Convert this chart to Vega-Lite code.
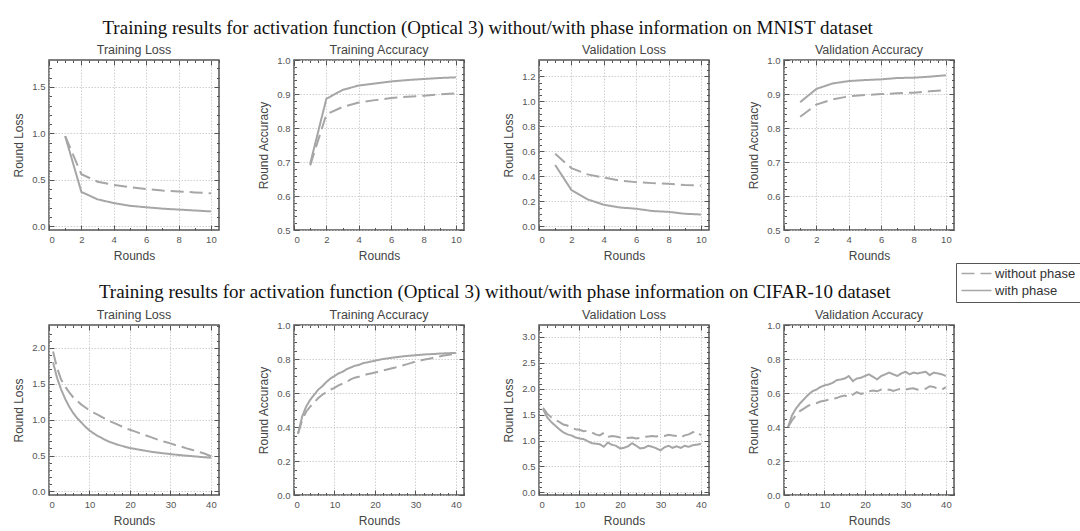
{
"$schema": "https://vega.github.io/schema/vega-lite/v6.json",
"background": "white",
"padding": {"left": 12, "top": 18, "right": 5, "bottom": 5},
"config": {
  "view": {"stroke": "#555", "strokeWidth": 1.5},
  "font": "Liberation Sans",
  "title": {"fontSize": 12.5, "fontWeight": "normal", "color": "#444", "offset": 3},
  "axis": {"domain": false, "labelFontSize": 9.5, "labelColor": "#555", "titleFontSize": 12, "titleFontWeight": "normal", "titleColor": "#444", "tickColor": "#555", "tickWidth": 1, "gridColor": "#c4c4c4", "gridDash": [1.5, 1.5], "gridWidth": 0.8, "labelPadding": 9, "titlePadding": 6, "labelOverlap": false},
  "axisBottom": {"titlePadding": 4},
  "legend": {"orient": "none", "legendX": 907, "legendY": 203, "strokeColor": "#555", "padding": 4, "labelFontSize": 13, "labelColor": "#333", "symbolType": "M-1,0H5", "symbolSize": 100, "symbolStrokeColor": "#a6a6a6", "symbolStrokeWidth": 1.5, "rowPadding": 3, "labelOffset": 22}
},
"datasets": {
"m1": [
{"r":1,"p":"with phase","v":0.97},{"r":2,"p":"with phase","v":0.37},{"r":3,"p":"with phase","v":0.29},{"r":4,"p":"with phase","v":0.25},{"r":5,"p":"with phase","v":0.22},{"r":6,"p":"with phase","v":0.205},{"r":7,"p":"with phase","v":0.19},{"r":8,"p":"with phase","v":0.18},{"r":9,"p":"with phase","v":0.17},{"r":10,"p":"with phase","v":0.16},
{"r":1,"p":"without phase","v":0.97},{"r":2,"p":"without phase","v":0.56},{"r":3,"p":"without phase","v":0.48},{"r":4,"p":"without phase","v":0.445},{"r":5,"p":"without phase","v":0.42},{"r":6,"p":"without phase","v":0.4},{"r":7,"p":"without phase","v":0.385},{"r":8,"p":"without phase","v":0.375},{"r":9,"p":"without phase","v":0.365},{"r":10,"p":"without phase","v":0.355}
],
"m2": [
{"r":1,"p":"with phase","v":0.695},{"r":2,"p":"with phase","v":0.886},{"r":3,"p":"with phase","v":0.912},{"r":4,"p":"with phase","v":0.925},{"r":5,"p":"with phase","v":0.931},{"r":6,"p":"with phase","v":0.937},{"r":7,"p":"with phase","v":0.941},{"r":8,"p":"with phase","v":0.944},{"r":9,"p":"with phase","v":0.947},{"r":10,"p":"with phase","v":0.949},
{"r":1,"p":"without phase","v":0.69},{"r":2,"p":"without phase","v":0.84},{"r":3,"p":"without phase","v":0.862},{"r":4,"p":"without phase","v":0.875},{"r":5,"p":"without phase","v":0.882},{"r":6,"p":"without phase","v":0.888},{"r":7,"p":"without phase","v":0.892},{"r":8,"p":"without phase","v":0.895},{"r":9,"p":"without phase","v":0.899},{"r":10,"p":"without phase","v":0.902}
],
"m3": [
{"r":1,"p":"with phase","v":0.49},{"r":2,"p":"with phase","v":0.29},{"r":3,"p":"with phase","v":0.215},{"r":4,"p":"with phase","v":0.172},{"r":5,"p":"with phase","v":0.15},{"r":6,"p":"with phase","v":0.14},{"r":7,"p":"with phase","v":0.122},{"r":8,"p":"with phase","v":0.115},{"r":9,"p":"with phase","v":0.1},{"r":10,"p":"with phase","v":0.094},
{"r":1,"p":"without phase","v":0.58},{"r":2,"p":"without phase","v":0.465},{"r":3,"p":"without phase","v":0.415},{"r":4,"p":"without phase","v":0.39},{"r":5,"p":"without phase","v":0.365},{"r":6,"p":"without phase","v":0.353},{"r":7,"p":"without phase","v":0.345},{"r":8,"p":"without phase","v":0.34},{"r":9,"p":"without phase","v":0.33},{"r":10,"p":"without phase","v":0.325}
],
"m4": [
{"r":1,"p":"with phase","v":0.876},{"r":2,"p":"with phase","v":0.915},{"r":3,"p":"with phase","v":0.931},{"r":4,"p":"with phase","v":0.938},{"r":5,"p":"with phase","v":0.941},{"r":6,"p":"with phase","v":0.943},{"r":7,"p":"with phase","v":0.947},{"r":8,"p":"with phase","v":0.948},{"r":9,"p":"with phase","v":0.951},{"r":10,"p":"with phase","v":0.955},
{"r":1,"p":"without phase","v":0.833},{"r":2,"p":"without phase","v":0.869},{"r":3,"p":"without phase","v":0.884},{"r":4,"p":"without phase","v":0.893},{"r":5,"p":"without phase","v":0.897},{"r":6,"p":"without phase","v":0.9},{"r":7,"p":"without phase","v":0.902},{"r":8,"p":"without phase","v":0.904},{"r":9,"p":"without phase","v":0.908},{"r":10,"p":"without phase","v":0.911}
],
"c1": [
{"r":1,"p":"with phase","v":1.8},{"r":2,"p":"with phase","v":1.58},{"r":3,"p":"with phase","v":1.42},{"r":4,"p":"with phase","v":1.29},{"r":5,"p":"with phase","v":1.18},{"r":6,"p":"with phase","v":1.09},{"r":7,"p":"with phase","v":1.02},{"r":8,"p":"with phase","v":0.96},{"r":9,"p":"with phase","v":0.9},{"r":10,"p":"with phase","v":0.85},
{"r":11,"p":"with phase","v":0.81},{"r":12,"p":"with phase","v":0.775},{"r":13,"p":"with phase","v":0.745},{"r":14,"p":"with phase","v":0.715},{"r":15,"p":"with phase","v":0.69},{"r":16,"p":"with phase","v":0.67},{"r":17,"p":"with phase","v":0.65},{"r":18,"p":"with phase","v":0.635},{"r":19,"p":"with phase","v":0.62},{"r":20,"p":"with phase","v":0.605},
{"r":21,"p":"with phase","v":0.595},{"r":22,"p":"with phase","v":0.585},{"r":23,"p":"with phase","v":0.575},{"r":24,"p":"with phase","v":0.565},{"r":25,"p":"with phase","v":0.555},{"r":26,"p":"with phase","v":0.547},{"r":27,"p":"with phase","v":0.54},{"r":28,"p":"with phase","v":0.533},{"r":29,"p":"with phase","v":0.527},{"r":30,"p":"with phase","v":0.52},
{"r":31,"p":"with phase","v":0.514},{"r":32,"p":"with phase","v":0.508},{"r":33,"p":"with phase","v":0.503},{"r":34,"p":"with phase","v":0.498},{"r":35,"p":"with phase","v":0.493},{"r":36,"p":"with phase","v":0.488},{"r":37,"p":"with phase","v":0.483},{"r":38,"p":"with phase","v":0.478},{"r":39,"p":"with phase","v":0.474},{"r":40,"p":"with phase","v":0.47},
{"r":1,"p":"without phase","v":1.95},{"r":2,"p":"without phase","v":1.72},{"r":3,"p":"without phase","v":1.56},{"r":4,"p":"without phase","v":1.46},{"r":5,"p":"without phase","v":1.38},{"r":6,"p":"without phase","v":1.31},{"r":7,"p":"without phase","v":1.26},{"r":8,"p":"without phase","v":1.21},{"r":9,"p":"without phase","v":1.17},{"r":10,"p":"without phase","v":1.13},
{"r":11,"p":"without phase","v":1.1},{"r":12,"p":"without phase","v":1.07},{"r":13,"p":"without phase","v":1.04},{"r":14,"p":"without phase","v":1.01},{"r":15,"p":"without phase","v":0.98},{"r":16,"p":"without phase","v":0.955},{"r":17,"p":"without phase","v":0.93},{"r":18,"p":"without phase","v":0.905},{"r":19,"p":"without phase","v":0.88},{"r":20,"p":"without phase","v":0.86},
{"r":21,"p":"without phase","v":0.84},{"r":22,"p":"without phase","v":0.82},{"r":23,"p":"without phase","v":0.8},{"r":24,"p":"without phase","v":0.78},{"r":25,"p":"without phase","v":0.76},{"r":26,"p":"without phase","v":0.74},{"r":27,"p":"without phase","v":0.72},{"r":28,"p":"without phase","v":0.7},{"r":29,"p":"without phase","v":0.685},{"r":30,"p":"without phase","v":0.67},
{"r":31,"p":"without phase","v":0.65},{"r":32,"p":"without phase","v":0.635},{"r":33,"p":"without phase","v":0.62},{"r":34,"p":"without phase","v":0.6},{"r":35,"p":"without phase","v":0.585},{"r":36,"p":"without phase","v":0.57},{"r":37,"p":"without phase","v":0.55},{"r":38,"p":"without phase","v":0.535},{"r":39,"p":"without phase","v":0.515},{"r":40,"p":"without phase","v":0.49}
],
"c2": [
{"r":1,"p":"with phase","v":0.36},{"r":2,"p":"with phase","v":0.46},{"r":3,"p":"with phase","v":0.52},{"r":4,"p":"with phase","v":0.56},{"r":5,"p":"with phase","v":0.59},{"r":6,"p":"with phase","v":0.62},{"r":7,"p":"with phase","v":0.64},{"r":8,"p":"with phase","v":0.665},{"r":9,"p":"with phase","v":0.685},{"r":10,"p":"with phase","v":0.7},
{"r":11,"p":"with phase","v":0.715},{"r":12,"p":"with phase","v":0.725},{"r":13,"p":"with phase","v":0.74},{"r":14,"p":"with phase","v":0.75},{"r":15,"p":"with phase","v":0.76},{"r":16,"p":"with phase","v":0.765},{"r":17,"p":"with phase","v":0.775},{"r":18,"p":"with phase","v":0.78},{"r":19,"p":"with phase","v":0.785},{"r":20,"p":"with phase","v":0.79},
{"r":21,"p":"with phase","v":0.795},{"r":22,"p":"with phase","v":0.8},{"r":23,"p":"with phase","v":0.803},{"r":24,"p":"with phase","v":0.807},{"r":25,"p":"with phase","v":0.81},{"r":26,"p":"with phase","v":0.813},{"r":27,"p":"with phase","v":0.816},{"r":28,"p":"with phase","v":0.818},{"r":29,"p":"with phase","v":0.82},{"r":30,"p":"with phase","v":0.822},
{"r":31,"p":"with phase","v":0.824},{"r":32,"p":"with phase","v":0.826},{"r":33,"p":"with phase","v":0.828},{"r":34,"p":"with phase","v":0.829},{"r":35,"p":"with phase","v":0.83},{"r":36,"p":"with phase","v":0.832},{"r":37,"p":"with phase","v":0.833},{"r":38,"p":"with phase","v":0.834},{"r":39,"p":"with phase","v":0.835},{"r":40,"p":"with phase","v":0.836},
{"r":1,"p":"without phase","v":0.36},{"r":2,"p":"without phase","v":0.44},{"r":3,"p":"without phase","v":0.49},{"r":4,"p":"without phase","v":0.52},{"r":5,"p":"without phase","v":0.545},{"r":6,"p":"without phase","v":0.57},{"r":7,"p":"without phase","v":0.59},{"r":8,"p":"without phase","v":0.605},{"r":9,"p":"without phase","v":0.62},{"r":10,"p":"without phase","v":0.63},
{"r":11,"p":"without phase","v":0.645},{"r":12,"p":"without phase","v":0.655},{"r":13,"p":"without phase","v":0.665},{"r":14,"p":"without phase","v":0.68},{"r":15,"p":"without phase","v":0.69},{"r":16,"p":"without phase","v":0.695},{"r":17,"p":"without phase","v":0.7},{"r":18,"p":"without phase","v":0.71},{"r":19,"p":"without phase","v":0.715},{"r":20,"p":"without phase","v":0.72},
{"r":21,"p":"without phase","v":0.727},{"r":22,"p":"without phase","v":0.733},{"r":23,"p":"without phase","v":0.738},{"r":24,"p":"without phase","v":0.744},{"r":25,"p":"without phase","v":0.75},{"r":26,"p":"without phase","v":0.757},{"r":27,"p":"without phase","v":0.763},{"r":28,"p":"without phase","v":0.77},{"r":29,"p":"without phase","v":0.777},{"r":30,"p":"without phase","v":0.785},
{"r":31,"p":"without phase","v":0.79},{"r":32,"p":"without phase","v":0.795},{"r":33,"p":"without phase","v":0.8},{"r":34,"p":"without phase","v":0.805},{"r":35,"p":"without phase","v":0.81},{"r":36,"p":"without phase","v":0.815},{"r":37,"p":"without phase","v":0.82},{"r":38,"p":"without phase","v":0.824},{"r":39,"p":"without phase","v":0.828},{"r":40,"p":"without phase","v":0.832}
],
"c3": [
{"r":1,"p":"with phase","v":1.61},{"r":2,"p":"with phase","v":1.45},{"r":3,"p":"with phase","v":1.36},{"r":4,"p":"with phase","v":1.29},{"r":5,"p":"with phase","v":1.22},{"r":6,"p":"with phase","v":1.16},{"r":7,"p":"with phase","v":1.12},{"r":8,"p":"with phase","v":1.1},{"r":9,"p":"with phase","v":1.06},{"r":10,"p":"with phase","v":1.04},
{"r":11,"p":"with phase","v":1.03},{"r":12,"p":"with phase","v":0.99},{"r":13,"p":"with phase","v":0.95},{"r":14,"p":"with phase","v":0.94},{"r":15,"p":"with phase","v":0.93},{"r":16,"p":"with phase","v":0.88},{"r":17,"p":"with phase","v":0.96},{"r":18,"p":"with phase","v":0.92},{"r":19,"p":"with phase","v":0.9},{"r":20,"p":"with phase","v":0.85},
{"r":21,"p":"with phase","v":0.86},{"r":22,"p":"with phase","v":0.89},{"r":23,"p":"with phase","v":0.95},{"r":24,"p":"with phase","v":0.9},{"r":25,"p":"with phase","v":0.85},{"r":26,"p":"with phase","v":0.86},{"r":27,"p":"with phase","v":0.9},{"r":28,"p":"with phase","v":0.88},{"r":29,"p":"with phase","v":0.85},{"r":30,"p":"with phase","v":0.81},
{"r":31,"p":"with phase","v":0.87},{"r":32,"p":"with phase","v":0.9},{"r":33,"p":"with phase","v":0.86},{"r":34,"p":"with phase","v":0.89},{"r":35,"p":"with phase","v":0.86},{"r":36,"p":"with phase","v":0.9},{"r":37,"p":"with phase","v":0.88},{"r":38,"p":"with phase","v":0.91},{"r":39,"p":"with phase","v":0.92},{"r":40,"p":"with phase","v":0.94},
{"r":1,"p":"without phase","v":1.63},{"r":2,"p":"without phase","v":1.52},{"r":3,"p":"without phase","v":1.45},{"r":4,"p":"without phase","v":1.4},{"r":5,"p":"without phase","v":1.36},{"r":6,"p":"without phase","v":1.31},{"r":7,"p":"without phase","v":1.29},{"r":8,"p":"without phase","v":1.25},{"r":9,"p":"without phase","v":1.22},{"r":10,"p":"without phase","v":1.21},
{"r":11,"p":"without phase","v":1.18},{"r":12,"p":"without phase","v":1.19},{"r":13,"p":"without phase","v":1.16},{"r":14,"p":"without phase","v":1.12},{"r":15,"p":"without phase","v":1.1},{"r":16,"p":"without phase","v":1.15},{"r":17,"p":"without phase","v":1.07},{"r":18,"p":"without phase","v":1.09},{"r":19,"p":"without phase","v":1.08},{"r":20,"p":"without phase","v":1.06},
{"r":21,"p":"without phase","v":1.07},{"r":22,"p":"without phase","v":1.05},{"r":23,"p":"without phase","v":1.06},{"r":24,"p":"without phase","v":1.04},{"r":25,"p":"without phase","v":1.05},{"r":26,"p":"without phase","v":1.07},{"r":27,"p":"without phase","v":1.08},{"r":28,"p":"without phase","v":1.09},{"r":29,"p":"without phase","v":1.08},{"r":30,"p":"without phase","v":1.1},
{"r":31,"p":"without phase","v":1.09},{"r":32,"p":"without phase","v":1.11},{"r":33,"p":"without phase","v":1.1},{"r":34,"p":"without phase","v":1.09},{"r":35,"p":"without phase","v":1.06},{"r":36,"p":"without phase","v":1.1},{"r":37,"p":"without phase","v":1.12},{"r":38,"p":"without phase","v":1.16},{"r":39,"p":"without phase","v":1.18},{"r":40,"p":"without phase","v":1.1}
],
"c4": [
{"r":1,"p":"with phase","v":0.4},{"r":2,"p":"with phase","v":0.47},{"r":3,"p":"with phase","v":0.51},{"r":4,"p":"with phase","v":0.54},{"r":5,"p":"with phase","v":0.565},{"r":6,"p":"with phase","v":0.59},{"r":7,"p":"with phase","v":0.61},{"r":8,"p":"with phase","v":0.62},{"r":9,"p":"with phase","v":0.635},{"r":10,"p":"with phase","v":0.645},
{"r":11,"p":"with phase","v":0.65},{"r":12,"p":"with phase","v":0.66},{"r":13,"p":"with phase","v":0.675},{"r":14,"p":"with phase","v":0.68},{"r":15,"p":"with phase","v":0.685},{"r":16,"p":"with phase","v":0.7},{"r":17,"p":"with phase","v":0.67},{"r":18,"p":"with phase","v":0.685},{"r":19,"p":"with phase","v":0.69},{"r":20,"p":"with phase","v":0.7},
{"r":21,"p":"with phase","v":0.71},{"r":22,"p":"with phase","v":0.695},{"r":23,"p":"with phase","v":0.68},{"r":24,"p":"with phase","v":0.7},{"r":25,"p":"with phase","v":0.71},{"r":26,"p":"with phase","v":0.72},{"r":27,"p":"with phase","v":0.71},{"r":28,"p":"with phase","v":0.7},{"r":29,"p":"with phase","v":0.715},{"r":30,"p":"with phase","v":0.725},
{"r":31,"p":"with phase","v":0.71},{"r":32,"p":"with phase","v":0.72},{"r":33,"p":"with phase","v":0.715},{"r":34,"p":"with phase","v":0.72},{"r":35,"p":"with phase","v":0.725},{"r":36,"p":"with phase","v":0.705},{"r":37,"p":"with phase","v":0.72},{"r":38,"p":"with phase","v":0.715},{"r":39,"p":"with phase","v":0.71},{"r":40,"p":"with phase","v":0.7},
{"r":1,"p":"without phase","v":0.4},{"r":2,"p":"without phase","v":0.44},{"r":3,"p":"without phase","v":0.47},{"r":4,"p":"without phase","v":0.495},{"r":5,"p":"without phase","v":0.51},{"r":6,"p":"without phase","v":0.525},{"r":7,"p":"without phase","v":0.535},{"r":8,"p":"without phase","v":0.54},{"r":9,"p":"without phase","v":0.55},{"r":10,"p":"without phase","v":0.555},
{"r":11,"p":"without phase","v":0.56},{"r":12,"p":"without phase","v":0.565},{"r":13,"p":"without phase","v":0.57},{"r":14,"p":"without phase","v":0.58},{"r":15,"p":"without phase","v":0.585},{"r":16,"p":"without phase","v":0.575},{"r":17,"p":"without phase","v":0.59},{"r":18,"p":"without phase","v":0.605},{"r":19,"p":"without phase","v":0.595},{"r":20,"p":"without phase","v":0.6},
{"r":21,"p":"without phase","v":0.61},{"r":22,"p":"without phase","v":0.615},{"r":23,"p":"without phase","v":0.61},{"r":24,"p":"without phase","v":0.62},{"r":25,"p":"without phase","v":0.615},{"r":26,"p":"without phase","v":0.62},{"r":27,"p":"without phase","v":0.612},{"r":28,"p":"without phase","v":0.62},{"r":29,"p":"without phase","v":0.625},{"r":30,"p":"without phase","v":0.62},
{"r":31,"p":"without phase","v":0.625},{"r":32,"p":"without phase","v":0.628},{"r":33,"p":"without phase","v":0.62},{"r":34,"p":"without phase","v":0.625},{"r":35,"p":"without phase","v":0.625},{"r":36,"p":"without phase","v":0.64},{"r":37,"p":"without phase","v":0.635},{"r":38,"p":"without phase","v":0.625},{"r":39,"p":"without phase","v":0.62},{"r":40,"p":"without phase","v":0.635}
]
},
"vconcat": [
{
"title": {"text": "Training results for activation function (Optical 3) without/with phase information on MNIST dataset", "font": "Liberation Serif", "fontSize": 19, "color": "#111", "anchor": "middle", "dx": 4, "offset": 5},
"spacing": 75, "bounds": "flush",
"hconcat": [
{"title": "Training Loss", "width": 170, "height": 170, "data": {"name": "m1"},
 "layer": [
  {"mark": {"type": "line", "color": "#a6a6a6", "strokeWidth": 2},
   "encoding": {
    "x": {"field": "r", "type": "quantitative", "scale": {"domain": [0, 10.5], "nice": false, "zero": false}, "axis": {"orient": "bottom", "title": "Rounds", "format": "d", "values": [0,0.5,1,1.5,2,2.5,3,3.5,4,4.5,5,5.5,6,6.5,7,7.5,8,8.5,9,9.5,10,10.5], "labelExpr": "abs(datum.value/2-round(datum.value/2))<1e-6 ? datum.label : ''", "tickSize": {"condition": {"test": "abs(datum.value/2-round(datum.value/2))<1e-6", "value": -5}, "value": -2.5}, "gridOpacity": {"condition": {"test": "abs(datum.value/2-round(datum.value/2))<1e-6", "value": 1}, "value": 0}}},
    "y": {"field": "v", "type": "quantitative", "scale": {"domain": [-0.04, 1.79], "nice": false, "zero": false}, "axis": {"orient": "left", "title": "Round Loss", "values": [0,0.1,0.2,0.3,0.4,0.5,0.6,0.7,0.8,0.9,1,1.1,1.2,1.3,1.4,1.5,1.6,1.7], "format": ".1f", "labelExpr": "abs(datum.value/0.5-round(datum.value/0.5))<1e-6 ? datum.label : ''", "tickSize": {"condition": {"test": "abs(datum.value/0.5-round(datum.value/0.5))<1e-6", "value": -5}, "value": -2.5}, "gridOpacity": {"condition": {"test": "abs(datum.value/0.5-round(datum.value/0.5))<1e-6", "value": 1}, "value": 0}}},
    "strokeDash": {"field": "p", "type": "nominal", "title": null, "scale": {"domain": ["without phase", "with phase"], "range": [[13,6],[1,0]]}}
   }},
  {"mark": {"type": "point", "opacity": 0},
   "encoding": {
    "x": {"field": "r", "type": "quantitative", "axis": {"orient": "top", "title": null, "labels": false, "grid": false, "values": [0,0.5,1,1.5,2,2.5,3,3.5,4,4.5,5,5.5,6,6.5,7,7.5,8,8.5,9,9.5,10,10.5], "tickSize": {"condition": {"test": "abs(datum.value/2-round(datum.value/2))<1e-6", "value": -5}, "value": -2.5}}},
    "y": {"field": "v", "type": "quantitative", "axis": {"orient": "right", "title": null, "labels": false, "grid": false, "values": [0,0.1,0.2,0.3,0.4,0.5,0.6,0.7,0.8,0.9,1,1.1,1.2,1.3,1.4,1.5,1.6,1.7], "tickSize": {"condition": {"test": "abs(datum.value/0.5-round(datum.value/0.5))<1e-6", "value": -5}, "value": -2.5}}}
   }}
 ]},
{"title": {"text": "Training Accuracy", "dy": 4}, "width": 170, "height": 170, "data": {"name": "m2"},
 "layer": [
  {"mark": {"type": "line", "color": "#a6a6a6", "strokeWidth": 2},
   "encoding": {
    "x": {"field": "r", "type": "quantitative", "scale": {"domain": [0, 10.5], "nice": false, "zero": false}, "axis": {"orient": "bottom", "title": "Rounds", "format": "d", "values": [0,0.5,1,1.5,2,2.5,3,3.5,4,4.5,5,5.5,6,6.5,7,7.5,8,8.5,9,9.5,10,10.5], "labelExpr": "abs(datum.value/2-round(datum.value/2))<1e-6 ? datum.label : ''", "tickSize": {"condition": {"test": "abs(datum.value/2-round(datum.value/2))<1e-6", "value": -5}, "value": -2.5}, "gridOpacity": {"condition": {"test": "abs(datum.value/2-round(datum.value/2))<1e-6", "value": 1}, "value": 0}}},
    "y": {"field": "v", "type": "quantitative", "scale": {"domain": [0.5, 1], "nice": false, "zero": false}, "axis": {"orient": "left", "title": "Round Accuracy", "values": [0.5,0.52,0.54,0.56,0.58,0.6,0.62,0.64,0.66,0.68,0.7,0.72,0.74,0.76,0.78,0.8,0.82,0.84,0.86,0.88,0.9,0.92,0.94,0.96,0.98,1], "format": ".1f", "labelExpr": "abs(datum.value/0.1-round(datum.value/0.1))<1e-6 ? datum.label : ''", "tickSize": {"condition": {"test": "abs(datum.value/0.1-round(datum.value/0.1))<1e-6", "value": -5}, "value": -2.5}, "gridOpacity": {"condition": {"test": "abs(datum.value/0.1-round(datum.value/0.1))<1e-6", "value": 1}, "value": 0}}},
    "strokeDash": {"field": "p", "type": "nominal", "title": null, "scale": {"domain": ["without phase", "with phase"], "range": [[13,6],[1,0]]}}
   }},
  {"mark": {"type": "point", "opacity": 0},
   "encoding": {
    "x": {"field": "r", "type": "quantitative", "axis": {"orient": "top", "title": null, "labels": false, "grid": false, "values": [0,0.5,1,1.5,2,2.5,3,3.5,4,4.5,5,5.5,6,6.5,7,7.5,8,8.5,9,9.5,10,10.5], "tickSize": {"condition": {"test": "abs(datum.value/2-round(datum.value/2))<1e-6", "value": -5}, "value": -2.5}}},
    "y": {"field": "v", "type": "quantitative", "axis": {"orient": "right", "title": null, "labels": false, "grid": false, "values": [0.5,0.52,0.54,0.56,0.58,0.6,0.62,0.64,0.66,0.68,0.7,0.72,0.74,0.76,0.78,0.8,0.82,0.84,0.86,0.88,0.9,0.92,0.94,0.96,0.98,1], "tickSize": {"condition": {"test": "abs(datum.value/0.1-round(datum.value/0.1))<1e-6", "value": -5}, "value": -2.5}}}
   }}
 ]},
{"title": "Validation Loss", "width": 170, "height": 170, "data": {"name": "m3"},
 "layer": [
  {"mark": {"type": "line", "color": "#a6a6a6", "strokeWidth": 2},
   "encoding": {
    "x": {"field": "r", "type": "quantitative", "scale": {"domain": [0, 10.5], "nice": false, "zero": false}, "axis": {"orient": "bottom", "title": "Rounds", "format": "d", "values": [0,0.5,1,1.5,2,2.5,3,3.5,4,4.5,5,5.5,6,6.5,7,7.5,8,8.5,9,9.5,10,10.5], "labelExpr": "abs(datum.value/2-round(datum.value/2))<1e-6 ? datum.label : ''", "tickSize": {"condition": {"test": "abs(datum.value/2-round(datum.value/2))<1e-6", "value": -5}, "value": -2.5}, "gridOpacity": {"condition": {"test": "abs(datum.value/2-round(datum.value/2))<1e-6", "value": 1}, "value": 0}}},
    "y": {"field": "v", "type": "quantitative", "scale": {"domain": [-0.03, 1.33], "nice": false, "zero": false}, "axis": {"orient": "left", "title": "Round Loss", "values": [0,0.05,0.1,0.15,0.2,0.25,0.3,0.35,0.4,0.45,0.5,0.55,0.6,0.65,0.7,0.75,0.8,0.85,0.9,0.95,1,1.05,1.1,1.15,1.2,1.25], "format": ".1f", "labelExpr": "abs(datum.value/0.2-round(datum.value/0.2))<1e-6 ? datum.label : ''", "tickSize": {"condition": {"test": "abs(datum.value/0.2-round(datum.value/0.2))<1e-6", "value": -5}, "value": -2.5}, "gridOpacity": {"condition": {"test": "abs(datum.value/0.2-round(datum.value/0.2))<1e-6", "value": 1}, "value": 0}}},
    "strokeDash": {"field": "p", "type": "nominal", "title": null, "scale": {"domain": ["without phase", "with phase"], "range": [[13,6],[1,0]]}}
   }},
  {"mark": {"type": "point", "opacity": 0},
   "encoding": {
    "x": {"field": "r", "type": "quantitative", "axis": {"orient": "top", "title": null, "labels": false, "grid": false, "values": [0,0.5,1,1.5,2,2.5,3,3.5,4,4.5,5,5.5,6,6.5,7,7.5,8,8.5,9,9.5,10,10.5], "tickSize": {"condition": {"test": "abs(datum.value/2-round(datum.value/2))<1e-6", "value": -5}, "value": -2.5}}},
    "y": {"field": "v", "type": "quantitative", "axis": {"orient": "right", "title": null, "labels": false, "grid": false, "values": [0,0.05,0.1,0.15,0.2,0.25,0.3,0.35,0.4,0.45,0.5,0.55,0.6,0.65,0.7,0.75,0.8,0.85,0.9,0.95,1,1.05,1.1,1.15,1.2,1.25,1.3], "tickSize": {"condition": {"test": "abs(datum.value/0.2-round(datum.value/0.2))<1e-6", "value": -5}, "value": -2.5}}}
   }}
 ]},
{"title": {"text": "Validation Accuracy", "dy": 4}, "width": 170, "height": 170, "data": {"name": "m4"},
 "layer": [
  {"mark": {"type": "line", "color": "#a6a6a6", "strokeWidth": 2},
   "encoding": {
    "x": {"field": "r", "type": "quantitative", "scale": {"domain": [0, 10.5], "nice": false, "zero": false}, "axis": {"orient": "bottom", "title": "Rounds", "format": "d", "values": [0,0.5,1,1.5,2,2.5,3,3.5,4,4.5,5,5.5,6,6.5,7,7.5,8,8.5,9,9.5,10,10.5], "labelExpr": "abs(datum.value/2-round(datum.value/2))<1e-6 ? datum.label : ''", "tickSize": {"condition": {"test": "abs(datum.value/2-round(datum.value/2))<1e-6", "value": -5}, "value": -2.5}, "gridOpacity": {"condition": {"test": "abs(datum.value/2-round(datum.value/2))<1e-6", "value": 1}, "value": 0}}},
    "y": {"field": "v", "type": "quantitative", "scale": {"domain": [0.5, 1], "nice": false, "zero": false}, "axis": {"orient": "left", "title": "Round Accuracy", "values": [0.5,0.52,0.54,0.56,0.58,0.6,0.62,0.64,0.66,0.68,0.7,0.72,0.74,0.76,0.78,0.8,0.82,0.84,0.86,0.88,0.9,0.92,0.94,0.96,0.98,1], "format": ".1f", "labelExpr": "abs(datum.value/0.1-round(datum.value/0.1))<1e-6 ? datum.label : ''", "tickSize": {"condition": {"test": "abs(datum.value/0.1-round(datum.value/0.1))<1e-6", "value": -5}, "value": -2.5}, "gridOpacity": {"condition": {"test": "abs(datum.value/0.1-round(datum.value/0.1))<1e-6", "value": 1}, "value": 0}}},
    "strokeDash": {"field": "p", "type": "nominal", "title": null, "scale": {"domain": ["without phase", "with phase"], "range": [[13,6],[1,0]]}}
   }},
  {"mark": {"type": "point", "opacity": 0},
   "encoding": {
    "x": {"field": "r", "type": "quantitative", "axis": {"orient": "top", "title": null, "labels": false, "grid": false, "values": [0,0.5,1,1.5,2,2.5,3,3.5,4,4.5,5,5.5,6,6.5,7,7.5,8,8.5,9,9.5,10,10.5], "tickSize": {"condition": {"test": "abs(datum.value/2-round(datum.value/2))<1e-6", "value": -5}, "value": -2.5}}},
    "y": {"field": "v", "type": "quantitative", "axis": {"orient": "right", "title": null, "labels": false, "grid": false, "values": [0.5,0.52,0.54,0.56,0.58,0.6,0.62,0.64,0.66,0.68,0.7,0.72,0.74,0.76,0.78,0.8,0.82,0.84,0.86,0.88,0.9,0.92,0.94,0.96,0.98,1], "tickSize": {"condition": {"test": "abs(datum.value/0.1-round(datum.value/0.1))<1e-6", "value": -5}, "value": -2.5}}}
   }}
 ]}
]
},
{
"title": {"text": "Training results for activation function (Optical 3) without/with phase information on CIFAR-10 dataset", "font": "Liberation Serif", "fontSize": 19, "color": "#111", "anchor": "middle", "dx": 11, "offset": 6},
"spacing": 75, "bounds": "flush",
"hconcat": [
{"title": "Training Loss", "width": 170, "height": 170, "data": {"name": "c1"},
 "layer": [
  {"mark": {"type": "line", "color": "#a6a6a6", "strokeWidth": 2},
   "encoding": {
    "x": {"field": "r", "type": "quantitative", "scale": {"domain": [0, 42], "nice": false, "zero": false}, "axis": {"orient": "bottom", "title": "Rounds", "values": [0,2,4,6,8,10,12,14,16,18,20,22,24,26,28,30,32,34,36,38,40,42], "labelExpr": "datum.value % 10 === 0 ? datum.label : ''", "tickSize": {"condition": {"test": "datum.value % 10 === 0", "value": -5}, "value": -2.5}, "gridOpacity": {"condition": {"test": "datum.value % 10 === 0", "value": 1}, "value": 0}}},
    "y": {"field": "v", "type": "quantitative", "scale": {"domain": [-0.05, 2.32], "nice": false, "zero": false}, "axis": {"orient": "left", "title": "Round Loss", "values": [0,0.1,0.2,0.3,0.4,0.5,0.6,0.7,0.8,0.9,1,1.1,1.2,1.3,1.4,1.5,1.6,1.7,1.8,1.9,2,2.1,2.2], "format": ".1f", "labelExpr": "abs(datum.value/0.5-round(datum.value/0.5))<1e-6 ? datum.label : ''", "tickSize": {"condition": {"test": "abs(datum.value/0.5-round(datum.value/0.5))<1e-6", "value": -5}, "value": -2.5}, "gridOpacity": {"condition": {"test": "abs(datum.value/0.5-round(datum.value/0.5))<1e-6", "value": 1}, "value": 0}}},
    "strokeDash": {"field": "p", "type": "nominal", "title": null, "scale": {"domain": ["without phase", "with phase"], "range": [[13,6],[1,0]]}}
   }},
  {"mark": {"type": "point", "opacity": 0},
   "encoding": {
    "x": {"field": "r", "type": "quantitative", "axis": {"orient": "top", "title": null, "labels": false, "grid": false, "values": [0,2,4,6,8,10,12,14,16,18,20,22,24,26,28,30,32,34,36,38,40,42], "tickSize": {"condition": {"test": "datum.value % 10 === 0", "value": -5}, "value": -2.5}}},
    "y": {"field": "v", "type": "quantitative", "axis": {"orient": "right", "title": null, "labels": false, "grid": false, "values": [0,0.1,0.2,0.3,0.4,0.5,0.6,0.7,0.8,0.9,1,1.1,1.2,1.3,1.4,1.5,1.6,1.7,1.8,1.9,2,2.1,2.2,2.3], "tickSize": {"condition": {"test": "abs(datum.value/0.5-round(datum.value/0.5))<1e-6", "value": -5}, "value": -2.5}}}
   }}
 ]},
{"title": {"text": "Training Accuracy", "dy": 4}, "width": 170, "height": 170, "data": {"name": "c2"},
 "layer": [
  {"mark": {"type": "line", "color": "#a6a6a6", "strokeWidth": 2},
   "encoding": {
    "x": {"field": "r", "type": "quantitative", "scale": {"domain": [0, 42], "nice": false, "zero": false}, "axis": {"orient": "bottom", "title": "Rounds", "values": [0,2,4,6,8,10,12,14,16,18,20,22,24,26,28,30,32,34,36,38,40,42], "labelExpr": "datum.value % 10 === 0 ? datum.label : ''", "tickSize": {"condition": {"test": "datum.value % 10 === 0", "value": -5}, "value": -2.5}, "gridOpacity": {"condition": {"test": "datum.value % 10 === 0", "value": 1}, "value": 0}}},
    "y": {"field": "v", "type": "quantitative", "scale": {"domain": [0, 1], "nice": false, "zero": false}, "axis": {"orient": "left", "title": "Round Accuracy", "values": [0,0.05,0.1,0.15,0.2,0.25,0.3,0.35,0.4,0.45,0.5,0.55,0.6,0.65,0.7,0.75,0.8,0.85,0.9,0.95,1], "format": ".1f", "labelExpr": "abs(datum.value/0.2-round(datum.value/0.2))<1e-6 ? datum.label : ''", "tickSize": {"condition": {"test": "abs(datum.value/0.2-round(datum.value/0.2))<1e-6", "value": -5}, "value": -2.5}, "gridOpacity": {"condition": {"test": "abs(datum.value/0.2-round(datum.value/0.2))<1e-6", "value": 1}, "value": 0}}},
    "strokeDash": {"field": "p", "type": "nominal", "title": null, "scale": {"domain": ["without phase", "with phase"], "range": [[13,6],[1,0]]}}
   }},
  {"mark": {"type": "point", "opacity": 0},
   "encoding": {
    "x": {"field": "r", "type": "quantitative", "axis": {"orient": "top", "title": null, "labels": false, "grid": false, "values": [0,2,4,6,8,10,12,14,16,18,20,22,24,26,28,30,32,34,36,38,40,42], "tickSize": {"condition": {"test": "datum.value % 10 === 0", "value": -5}, "value": -2.5}}},
    "y": {"field": "v", "type": "quantitative", "axis": {"orient": "right", "title": null, "labels": false, "grid": false, "values": [0,0.05,0.1,0.15,0.2,0.25,0.3,0.35,0.4,0.45,0.5,0.55,0.6,0.65,0.7,0.75,0.8,0.85,0.9,0.95,1], "tickSize": {"condition": {"test": "abs(datum.value/0.2-round(datum.value/0.2))<1e-6", "value": -5}, "value": -2.5}}}
   }}
 ]},
{"title": "Validation Loss", "width": 170, "height": 170, "data": {"name": "c3"},
 "layer": [
  {"mark": {"type": "line", "color": "#a6a6a6", "strokeWidth": 2},
   "encoding": {
    "x": {"field": "r", "type": "quantitative", "scale": {"domain": [0, 42], "nice": false, "zero": false}, "axis": {"orient": "bottom", "title": "Rounds", "values": [0,2,4,6,8,10,12,14,16,18,20,22,24,26,28,30,32,34,36,38,40,42], "labelExpr": "datum.value % 10 === 0 ? datum.label : ''", "tickSize": {"condition": {"test": "datum.value % 10 === 0", "value": -5}, "value": -2.5}, "gridOpacity": {"condition": {"test": "datum.value % 10 === 0", "value": 1}, "value": 0}}},
    "y": {"field": "v", "type": "quantitative", "scale": {"domain": [-0.05, 3.23], "nice": false, "zero": false}, "axis": {"orient": "left", "title": "Round Loss", "values": [0,0.1,0.2,0.3,0.4,0.5,0.6,0.7,0.8,0.9,1,1.1,1.2,1.3,1.4,1.5,1.6,1.7,1.8,1.9,2,2.1,2.2,2.3,2.4,2.5,2.6,2.7,2.8,2.9,3,3.1], "format": ".1f", "labelExpr": "abs(datum.value/0.5-round(datum.value/0.5))<1e-6 ? datum.label : ''", "tickSize": {"condition": {"test": "abs(datum.value/0.5-round(datum.value/0.5))<1e-6", "value": -5}, "value": -2.5}, "gridOpacity": {"condition": {"test": "abs(datum.value/0.5-round(datum.value/0.5))<1e-6", "value": 1}, "value": 0}}},
    "strokeDash": {"field": "p", "type": "nominal", "title": null, "scale": {"domain": ["without phase", "with phase"], "range": [[13,6],[1,0]]}}
   }},
  {"mark": {"type": "point", "opacity": 0},
   "encoding": {
    "x": {"field": "r", "type": "quantitative", "axis": {"orient": "top", "title": null, "labels": false, "grid": false, "values": [0,2,4,6,8,10,12,14,16,18,20,22,24,26,28,30,32,34,36,38,40,42], "tickSize": {"condition": {"test": "datum.value % 10 === 0", "value": -5}, "value": -2.5}}},
    "y": {"field": "v", "type": "quantitative", "axis": {"orient": "right", "title": null, "labels": false, "grid": false, "values": [0,0.1,0.2,0.3,0.4,0.5,0.6,0.7,0.8,0.9,1,1.1,1.2,1.3,1.4,1.5,1.6,1.7,1.8,1.9,2,2.1,2.2,2.3,2.4,2.5,2.6,2.7,2.8,2.9,3,3.1,3.2], "tickSize": {"condition": {"test": "abs(datum.value/0.5-round(datum.value/0.5))<1e-6", "value": -5}, "value": -2.5}}}
   }}
 ]},
{"title": {"text": "Validation Accuracy", "dy": 4}, "width": 170, "height": 170, "data": {"name": "c4"},
 "layer": [
  {"mark": {"type": "line", "color": "#a6a6a6", "strokeWidth": 2},
   "encoding": {
    "x": {"field": "r", "type": "quantitative", "scale": {"domain": [0, 42], "nice": false, "zero": false}, "axis": {"orient": "bottom", "title": "Rounds", "values": [0,2,4,6,8,10,12,14,16,18,20,22,24,26,28,30,32,34,36,38,40,42], "labelExpr": "datum.value % 10 === 0 ? datum.label : ''", "tickSize": {"condition": {"test": "datum.value % 10 === 0", "value": -5}, "value": -2.5}, "gridOpacity": {"condition": {"test": "datum.value % 10 === 0", "value": 1}, "value": 0}}},
    "y": {"field": "v", "type": "quantitative", "scale": {"domain": [0, 1], "nice": false, "zero": false}, "axis": {"orient": "left", "title": "Round Accuracy", "values": [0,0.05,0.1,0.15,0.2,0.25,0.3,0.35,0.4,0.45,0.5,0.55,0.6,0.65,0.7,0.75,0.8,0.85,0.9,0.95,1], "format": ".1f", "labelExpr": "abs(datum.value/0.2-round(datum.value/0.2))<1e-6 ? datum.label : ''", "tickSize": {"condition": {"test": "abs(datum.value/0.2-round(datum.value/0.2))<1e-6", "value": -5}, "value": -2.5}, "gridOpacity": {"condition": {"test": "abs(datum.value/0.2-round(datum.value/0.2))<1e-6", "value": 1}, "value": 0}}},
    "strokeDash": {"field": "p", "type": "nominal", "title": null, "scale": {"domain": ["without phase", "with phase"], "range": [[13,6],[1,0]]}}
   }},
  {"mark": {"type": "point", "opacity": 0},
   "encoding": {
    "x": {"field": "r", "type": "quantitative", "axis": {"orient": "top", "title": null, "labels": false, "grid": false, "values": [0,2,4,6,8,10,12,14,16,18,20,22,24,26,28,30,32,34,36,38,40,42], "tickSize": {"condition": {"test": "datum.value % 10 === 0", "value": -5}, "value": -2.5}}},
    "y": {"field": "v", "type": "quantitative", "axis": {"orient": "right", "title": null, "labels": false, "grid": false, "values": [0,0.05,0.1,0.15,0.2,0.25,0.3,0.35,0.4,0.45,0.5,0.55,0.6,0.65,0.7,0.75,0.8,0.85,0.9,0.95,1], "tickSize": {"condition": {"test": "abs(datum.value/0.2-round(datum.value/0.2))<1e-6", "value": -5}, "value": -2.5}}}
   }}
 ]}
]
}
],
"spacing": 265,
"bounds": "flush",
"resolve": {"scale": {"strokeDash": "shared"}, "legend": {"strokeDash": "shared"}}
}
